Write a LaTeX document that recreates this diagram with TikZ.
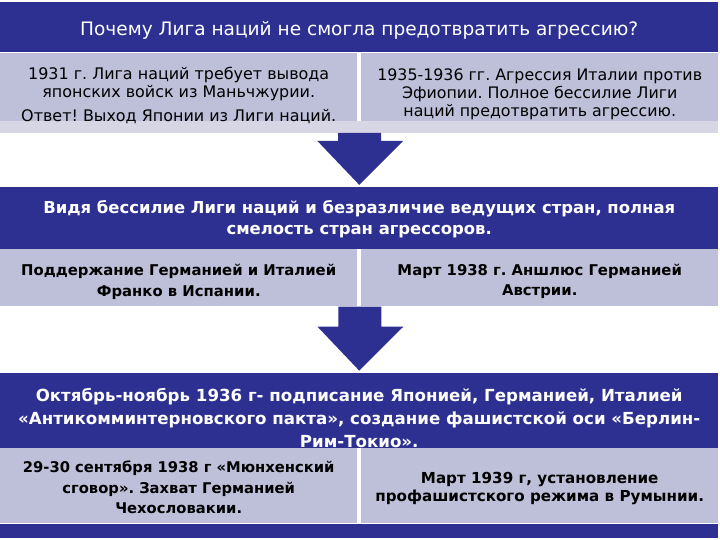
\documentclass[tikz,border=0pt]{standalone}
\usepackage{fontspec}
\setmainfont{DejaVu Sans}
\usepackage{xcolor}
\usetikzlibrary{positioning,calc}
\frenchspacing

\definecolor{bannerblue}{RGB}{45,48,145}
\definecolor{boxgray}{RGB}{190,191,216}
\definecolor{shelfgray}{RGB}{214,214,228}

% rows of text whose first baseline sits #1 above the node centre
\newcommand{\rowsat}[2]{\raisebox{#1}[0pt][0pt]{\begin{tabular}[t]{@{}c@{}}#2\end{tabular}}}

\begin{document}
\begin{tikzpicture}[
    x=1bp, y=-1bp,
    banner/.style={rectangle, fill=bannerblue, text=white, minimum width=718bp, inner sep=0pt, align=center, font=\fontsize{16.5}{21}\selectfont\bfseries},
    infobox/.style={rectangle, fill=boxgray, minimum width=357bp, inner sep=0pt, align=center, font=\fontsize{14.9}{21}\selectfont\bfseries},
    shelf/.style={rectangle, fill=shelfgray, minimum width=718bp, minimum height=12bp, inner sep=0pt},
    blockarrow/.style={fill=bannerblue}
]
\useasboundingbox (0,0) rectangle (720,540);

% Level 1: the question
\node[banner, minimum height=50bp, anchor=north west, font=\fontsize{18.6}{22}\selectfont] (why) at (0,2)
    {\rowsat{-8bp}{Почему Лига наций не смогла предотвратить агрессию?}};
\node[shelf, below=68bp of why.south west, anchor=north west] (shelf1) {};
\node[infobox, minimum height=68bp, below=0pt of why.south west, anchor=north west, font=\fontsize{16}{18}\selectfont] (manchuria)
    {\rowsat{6.6bp}{1931 г. Лига наций требует вывода\\ японских войск из Маньчжурии.\\[6bp] Ответ! Выход Японии из Лиги наций.}};
\node[infobox, minimum height=68bp, below=0pt of why.south east, anchor=north east, font=\fontsize{15.9}{18}\selectfont] (ethiopia)
    {\rowsat{5.6bp}{1935-1936 гг. Агрессия Италии против\\ Эфиопии. Полное бессилие Лиги\\ наций предотвратить агрессию.}};

% Level 2: aggressors grow bold
\node[banner, minimum height=62bp, below=54bp of shelf1] (bold)
    {\rowsat{4.5bp}{Видя бессилие Лиги наций и безразличие ведущих стран, полная\\ смелость стран агрессоров.}};
\node[infobox, minimum height=57bp, below=0pt of bold.south west, anchor=north west] (spain)
    {\rowsat{2bp}{Поддержание Германией и Италией\\ Франко в Испании.}};
\node[infobox, minimum height=57bp, below=0pt of bold.south east, anchor=north east, font=\fontsize{14.9}{20}\selectfont\bfseries] (anschluss)
    {\rowsat{2bp}{Март 1938 г. Аншлюс Германией\\ Австрии.}};

% Level 3: the axis
\node[banner, minimum height=75bp, below=66bp of spain.south west, anchor=north west, font=\fontsize{16.7}{23}\selectfont\bfseries] (axis)
    {\rowsat{9bp}{Октябрь-ноябрь 1936 г- подписание Японией, Германией, Италией\\ «Антикомминтерновского пакта», создание фашистской оси «Берлин-\\ Рим-Токио».}};
\node[infobox, minimum height=75bp, below=0pt of axis.south west, anchor=north west, font=\fontsize{14.8}{20.5}\selectfont\bfseries] (munich)
    {\rowsat{13bp}{29-30 сентября 1938 г «Мюнхенский\\ сговор». Захват Германией\\ Чехословакии.}};
\node[infobox, minimum height=75bp, below=0pt of axis.south east, anchor=north east, font=\fontsize{15.2}{18}\selectfont\bfseries] (romania)
    {\rowsat{2bp}{Март 1939 г, установление\\ профашистского режима в Румынии.}};
\node[banner, minimum height=14bp, below=0pt of munich.south west, anchor=north west] (foot) {};

% Block arrows
\fill[blockarrow] ($(shelf1.south)+(-21,0)$) -- ++(0,8) -- ++(-21,0) -- ($(bold.north)+(0,-2)$)
    -- ($(shelf1.south)+(44,8)$) -- ++(-22,0) -- ++(0,-8) -- cycle;
\fill[blockarrow] ($(spain.south east)+(-19,0)$) -- ++(0,20) -- ++(-21,0) -- ($(axis.north)+(0,-2)$)
    -- ($(spain.south east)+(46,20)$) -- ++(-22,0) -- ++(0,-20) -- cycle;

\end{tikzpicture}
\end{document}
